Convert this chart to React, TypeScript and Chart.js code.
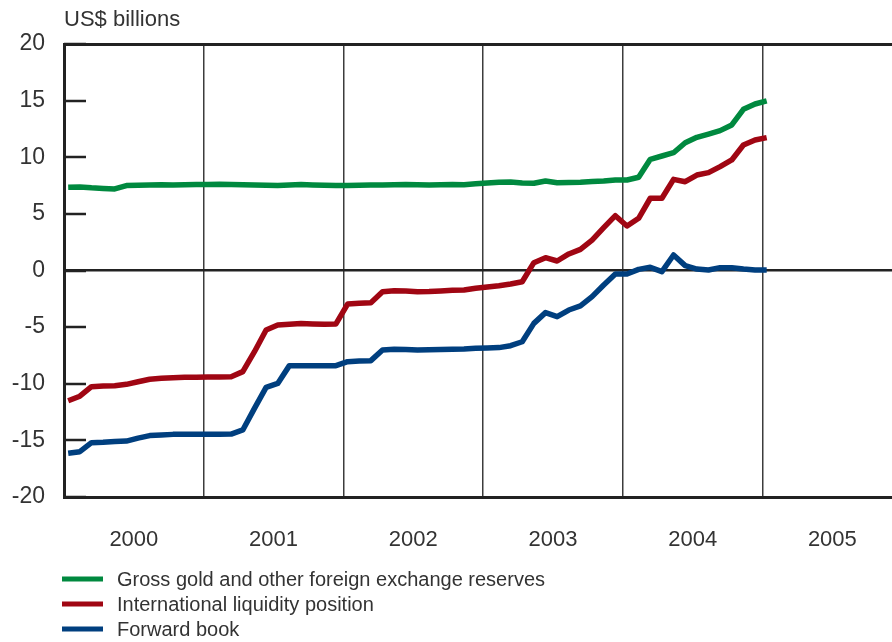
import React, { useEffect, useRef } from 'react';
import { Chart, registerables } from 'chart.js';

Chart.register(...registerables);

// Monthly observations, Jan 2000 .. Jan 2005 (US$ billions)
const firstYear = 2000;
const yearLabels = ['2000', '2001', '2002', '2003', '2004', '2005'];
const yTicks = [-20, -15, -10, -5, 0, 5, 10, 15, 20];

const reserves = [
  7.35, 7.38, 7.3, 7.25, 7.2, 7.5, 7.52, 7.55, 7.58, 7.55, 7.58, 7.6,
  7.6, 7.62, 7.6, 7.58, 7.55, 7.52, 7.5, 7.55, 7.6, 7.55, 7.52, 7.5,
  7.5, 7.52, 7.55, 7.55, 7.58, 7.6, 7.58, 7.55, 7.58, 7.6, 7.58, 7.65,
  7.72, 7.8, 7.82, 7.72, 7.7, 7.9, 7.75, 7.78, 7.8, 7.85, 7.9, 8.0,
  7.99, 8.23, 9.82, 10.11, 10.4, 11.28, 11.76, 12.05, 12.35, 12.85, 14.23, 14.7,
  14.97,
];

const liquidity = [
  -11.5, -11.1, -10.26, -10.2, -10.17, -10.05, -9.82, -9.6, -9.52, -9.46, -9.43, -9.42,
  -9.4, -9.4, -9.38, -8.93, -7.17, -5.25, -4.81, -4.75, -4.67, -4.72, -4.75, -4.72,
  -2.96, -2.9, -2.84, -1.87, -1.78, -1.81, -1.87, -1.85, -1.8, -1.75, -1.72, -1.57,
  -1.45, -1.34, -1.19, -0.99, 0.69, 1.13, 0.84, 1.46, 1.87, 2.69, 3.78, 4.84,
  3.93, 4.61, 6.38, 6.38, 8.05, 7.84, 8.43, 8.64, 9.17, 9.76, 11.08, 11.52,
  11.73,
];

const forwardBook = [
  -16.14, -16.0, -15.2, -15.17, -15.1, -15.06, -14.8, -14.58, -14.53, -14.47, -14.47, -14.47,
  -14.47, -14.46, -14.44, -14.08, -12.17, -10.32, -9.97, -8.4, -8.4, -8.42, -8.42, -8.4,
  -8.05, -8.0, -7.96, -7.02, -6.96, -6.98, -7.02, -7.0, -6.98, -6.96, -6.94, -6.87,
  -6.84, -6.81, -6.64, -6.29, -4.67, -3.72, -4.08, -3.49, -3.13, -2.31, -1.28, -0.31,
  -0.31, 0.1, 0.28, -0.1, 1.37, 0.43, 0.13, 0.04, 0.25, 0.25, 0.13, 0.05,
  0.05,
];

const seriesNames = [
  'Gross gold and other foreign exchange reserves',
  'International liquidity position',
  'Forward book',
];
const seriesValues = [reserves, liquidity, forwardBook];
const seriesColors = ['#00893f', '#a00613', '#003f7f'];

const FONT = "'Liberation Sans', Arial, Helvetica, sans-serif";
const TEXT = '#333333';
const AXIS = '#222222';

const monthX = (i: number) => firstYear + (i + 0.36) / 12;

const decorPlugin = {
  id: 'decor',
  afterDraw(chart: any) {
    const { ctx, chartArea, scales } = chart;
    const y = scales.y;
    ctx.save();
    // inward y ticks
    ctx.strokeStyle = AXIS;
    ctx.lineWidth = 2.5;
    yTicks.forEach((v) => {
      const py = Math.round(y.getPixelForValue(v));
      ctx.beginPath();
      ctx.moveTo(chartArea.left, py);
      ctx.lineTo(chartArea.left + 22, py);
      ctx.stroke();
    });
    // unit title
    ctx.fillStyle = TEXT;
    ctx.font = `22px ${FONT}`;
    ctx.textAlign = 'left';
    ctx.textBaseline = 'middle';
    ctx.fillText('US$ billions', chartArea.left, 20);
    // legend
    ctx.font = `20px ${FONT}`;
    chart.data.datasets.forEach((ds: any, k: number) => {
      const cy = 580 + k * 25;
      ctx.strokeStyle = ds.borderColor;
      ctx.lineWidth = 5;
      ctx.beginPath();
      ctx.moveTo(62, cy - 1);
      ctx.lineTo(103, cy - 1);
      ctx.stroke();
      ctx.fillStyle = TEXT;
      ctx.fillText(ds.label, 117, cy);
    });
    ctx.restore();
  },
};

export default function App() {
  const ref = useRef<HTMLCanvasElement | null>(null);

  useEffect(() => {
    if (!ref.current) return;
    const chart = new Chart(ref.current, {
      type: 'line',
      data: {
        datasets: seriesValues.map((vals, k) => ({
          label: seriesNames[k],
          data: vals.map((v, i) => ({ x: monthX(i), y: v })),
          borderColor: seriesColors[k],
          backgroundColor: seriesColors[k],
          borderWidth: 5.5,
          pointRadius: 0,
          tension: 0,
          borderCapStyle: 'butt',
          borderJoinStyle: 'round',
          fill: false,
        })),
      },
      options: {
        animation: false,
        responsive: false,
        devicePixelRatio: 1,
        layout: { padding: { top: 44, right: 0, bottom: 80, left: 0 } },
        plugins: { legend: { display: false }, tooltip: { enabled: false } },
        scales: {
          x: {
            type: 'linear',
            min: firstYear,
            max: firstYear + 828 / 139.7,
            afterBuildTicks: (s: any) => {
              const t: any[] = [];
              yearLabels.forEach((_, k) => {
                t.push({ value: firstYear + k });
                t.push({ value: firstYear + k + 0.5 });
              });
              s.ticks = t;
            },
            afterFit: (s: any) => {
              s.height = 65;
            },
            grid: {
              drawTicks: false,
              color: (c: any) =>
                c.tick && Number.isInteger(c.tick.value) && c.tick.value > firstYear ? '#3c3c3c' : 'rgba(0,0,0,0)',
              lineWidth: 1.5,
            },
            border: { display: true, color: AXIS, width: 3 },
            ticks: {
              autoSkip: false,
              maxRotation: 0,
              padding: 30,
              color: TEXT,
              font: { family: FONT, size: 22 },
              callback: (v: any) => {
                const n = Number(v);
                if (Number.isInteger(n)) return '';
                return yearLabels[Math.floor(n) - firstYear] ?? '';
              },
            },
          },
          y: {
            type: 'linear',
            min: -20,
            max: 20,
            afterBuildTicks: (s: any) => {
              s.ticks = yTicks.map((v) => ({ value: v }));
            },
            afterFit: (s: any) => {
              s.width = 64;
            },
            grid: {
              drawTicks: false,
              color: (c: any) =>
                c.tick && (c.tick.value === 0 || c.tick.value === 20) ? AXIS : 'rgba(0,0,0,0)',
              lineWidth: (c: any) => (c.tick && c.tick.value === 20 ? 3 : 2.5),
            },
            border: { display: true, color: AXIS, width: 3 },
            ticks: {
              padding: 19,
              color: TEXT,
              font: { family: FONT, size: 23 },
              callback: (v: any) => String(v),
            },
          },
        },
      } as any,
      plugins: [decorPlugin],
    });
    return () => chart.destroy();
  }, []);

  return (
    <div style={{ position: 'absolute', left: 0, top: 0, width: 892, height: 642, background: '#fff' }}>
      <canvas ref={ref} width={892} height={642} style={{ display: 'block', width: 892, height: 642 }} />
    </div>
  );
}
